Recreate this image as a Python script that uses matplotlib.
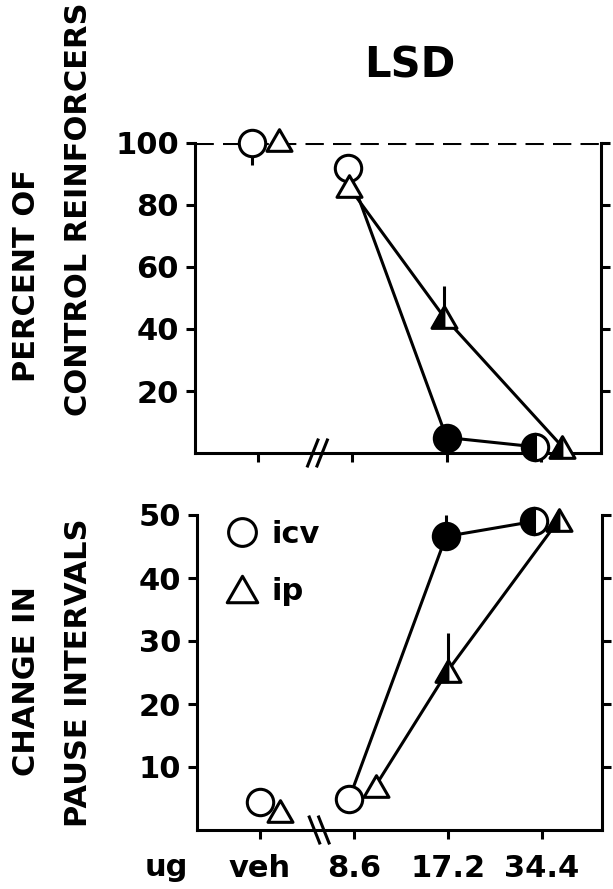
import matplotlib
matplotlib.use("Agg")
import matplotlib.pyplot as plt
from matplotlib.lines import Line2D
from matplotlib.path import Path
from matplotlib.transforms import blended_transform_factory

# ---- data -------------------------------------------------------------
doses = ["veh", "8.6", "17.2", "34.4"]

reinf_icv = [100, 92, 5, 2]          # percent of control reinforcers
reinf_ip = [101, 86, 44, 2]
reinf_icv_err_lo = [7, 0, 0, 0]
reinf_icv_err_hi = [0, 0, 0, 0]
reinf_ip_err_lo = [0, 0, 0, 0]
reinf_ip_err_hi = [0, 0, 10, 0]

pause_icv = [4.5, 5, 46.6, 49]       # change in pause intervals
pause_ip = [3, 7, 25.3, 49.2]
pause_icv_err_lo = [0, 0, 0, 0]
pause_icv_err_hi = [0, 0, 3.4, 0]
pause_ip_err_lo = [0, 0, 0, 0]
pause_ip_err_hi = [0, 0, 6, 0]

reinf_ticks = [20, 40, 60, 80, 100]
pause_ticks = [10, 20, 30, 40, 50]

# ---- styling ----------------------------------------------------------
W, H = 613, 889
LW = 2.2
FONT = "DejaVu Sans"
plt.rcParams["font.family"] = [FONT]
plt.rcParams["font.weight"] = "bold"

# equilateral triangle, centred on its bounding box, and its left half
TRI = Path([(0, 0.433), (-0.5, -0.433), (0.5, -0.433), (0, 0.433)],
           [Path.MOVETO, Path.LINETO, Path.LINETO, Path.CLOSEPOLY])
TRI_LEFT = Path([(0, 0.433), (-0.5, -0.433), (0, -0.433), (0, 0.433)],
                [Path.MOVETO, Path.LINETO, Path.LINETO, Path.CLOSEPOLY])
CIRCLE_MS = 19
TRI_MS = 18

# fill of each marker: open, solid, or half filled
icv_fill = ["open", "open", "solid", "half"]
ip_fill = ["open", "open", "half", "half"]

# small horizontal dodges so overlapping symbols stay readable
reinf_icv_dx = [-0.06, -0.05, 0.0, -0.06]
reinf_ip_dx = [0.22, -0.04, -0.03, 0.23]
pause_icv_dx = [0.0, -0.05, -0.02, -0.08]
pause_ip_dx = [0.21, 0.23, 0.0, 0.18]

XLIM = (-0.67, 3.64)
BREAK_X = 0.63


def px_axes(fig, left, top, right, bottom):
    return fig.add_axes([left / W, 1 - bottom / H, (right - left) / W, (bottom - top) / H])


def style_axes(ax, ymax, ticks):
    ax.set_xlim(*XLIM)
    ax.set_ylim(0, ymax)
    ax.spines["top"].set_visible(False)
    for s in ("left", "right", "bottom"):
        ax.spines[s].set_linewidth(LW)
        ax.spines[s].set_capstyle("projecting")
    ax.set_yticks(ticks)
    ax.set_yticklabels([str(t) for t in ticks])
    ax.set_xticks(range(len(doses)))
    ax.tick_params(axis="both", direction="out", length=6.5, width=LW)
    ax.tick_params(axis="y", right=True, labelright=False, pad=5,
                   labelsize=22)
    ax.set_facecolor("none")


def add_break(ax, xpos, rising):
    tr = blended_transform_factory(ax.transData, ax.transAxes)
    h = 13.0 / (ax.get_position().height * H)
    for off in (-0.05, 0.05):
        xa, xb = xpos + off - 0.055, xpos + off + 0.055
        ya, yb = (-h, h) if rising else (h, -h)
        ax.add_line(Line2D([xa, xb], [ya, yb], transform=tr, color="k",
                           lw=LW, clip_on=False, zorder=6))


def draw_series(ax, ys, dx, fills, err_lo, err_hi, marker, ms, half=None):
    xs = [i + d for i, d in enumerate(dx)]
    # connected dose-response segment (drug doses only)
    ax.plot(xs[1:], ys[1:], "-", color="k", lw=LW, zorder=2, clip_on=False)
    for x, y, lo, hi in zip(xs, ys, err_lo, err_hi):
        if lo or hi:
            ax.vlines(x, y - lo, y + hi, color="k", lw=LW, zorder=3,
                      clip_on=False)
    common = dict(ms=ms, mec="k", mew=LW, ls="none", zorder=4, clip_on=False)
    for x, y, f in zip(xs, ys, fills):
        if f == "solid":
            ax.plot([x], [y], marker=marker, mfc="black", **common)
        elif f == "half" and half is None:
            ax.plot([x], [y], marker=marker, fillstyle="left", mfc="black",
                    markerfacecoloralt="white", **common)
        else:
            ax.plot([x], [y], marker=marker, mfc="white", **common)
            if f == "half":
                ax.plot([x], [y], marker=half, mfc="black", ms=ms, mec="k",
                        mew=LW * 0.6, ls="none", zorder=5, clip_on=False)


fig = plt.figure(figsize=(W / 100, H / 100), dpi=100)

# ---- upper panel: reinforcers -----------------------------------------
ax1 = px_axes(fig, 195, 143, 601, 453)
style_axes(ax1, 100, reinf_ticks)
ax1.set_xticklabels([])
ax1.axhline(100, color="k", lw=LW, ls=(0, (6, 3)), zorder=1)
draw_series(ax1, reinf_icv, reinf_icv_dx, icv_fill, reinf_icv_err_lo,
            reinf_icv_err_hi, "o", CIRCLE_MS)
draw_series(ax1, reinf_ip, reinf_ip_dx, ip_fill, reinf_ip_err_lo,
            reinf_ip_err_hi, TRI, TRI_MS, half=TRI_LEFT)
add_break(ax1, BREAK_X, rising=True)

# ---- lower panel: pause intervals -------------------------------------
ax2 = px_axes(fig, 197, 515, 602, 830)
style_axes(ax2, 50, pause_ticks)
ax2.set_xticklabels(doses, fontsize=22)
ax2.tick_params(axis="x", pad=11)
draw_series(ax2, pause_icv, pause_icv_dx, icv_fill, pause_icv_err_lo,
            pause_icv_err_hi, "o", CIRCLE_MS)
draw_series(ax2, pause_ip, pause_ip_dx, ip_fill, pause_ip_err_lo,
            pause_ip_err_hi, TRI, TRI_MS, half=TRI_LEFT)
add_break(ax2, BREAK_X, rising=False)

handles = [
    Line2D([], [], ls="none", marker="o", ms=CIRCLE_MS + 1, mfc="white",
           mec="k", mew=LW, label="icv"),
    Line2D([], [], ls="none", marker=TRI, ms=TRI_MS + 4, mfc="white",
           mec="k", mew=LW, label="ip"),
]
fig.legend(handles=handles, loc="upper left",
           bbox_to_anchor=(227 / W, 1 - 520 / H), bbox_transform=fig.transFigure,
           frameon=False, fontsize=22, borderpad=0, borderaxespad=0,
           handlelength=1.0, handletextpad=0.45, labelspacing=0.9)

# ---- text -------------------------------------------------------------
def ftext(x, y, s, **kw):
    fig.text(x / W, 1 - y / H, s, ha="center", va="center", **kw)


ftext(410, 65, "LSD", fontsize=30)
ftext(27, 275, "PERCENT OF", rotation=90, fontsize=22)
ftext(79, 209, "CONTROL REINFORCERS", rotation=90, fontsize=22)
ftext(27, 681, "CHANGE IN", rotation=90, fontsize=22)
ftext(79, 673, "PAUSE INTERVALS", rotation=90, fontsize=22)
ftext(166, 868, "ug", fontsize=22)

fig.savefig("out.png", dpi=100, facecolor="white")
